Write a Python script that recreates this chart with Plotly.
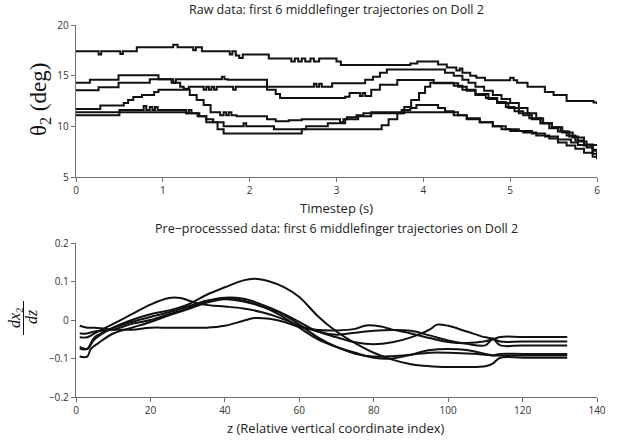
import plotly.graph_objects as go

# ---------------- Top panel: raw trajectories (step data) ----------------
raw_t1 = [0, 0.26, 0.29, 0.51, 0.54, 0.7, 1.12, 1.17, 1.35, 1.38, 1.45, 1.77, 1.8, 1.84, 1.88, 1.92, 2.22, 2.48, 2.52, 2.56, 2.6, 2.64, 2.7, 2.74, 2.8, 3.0, 3.05, 3.73, 3.85, 3.93, 4.17, 4.27, 4.38, 4.42, 4.45, 4.54, 4.61, 4.71, 5.0, 5.04, 5.08, 5.2, 5.4, 5.5, 5.65, 5.96, 6.0]
raw_v1 = [17.4, 17.1, 17.4, 17.15, 17.4, 17.8, 18.05, 17.8, 17.5, 17.8, 17.4, 17.1, 17.4, 17.0, 16.75, 17.1, 16.7, 16.4, 16.7, 16.4, 16.7, 16.4, 16.7, 16.4, 16.7, 16.4, 16.05, 16.05, 16.2, 16.4, 16.1, 15.8, 15.5, 15.7, 15.3, 15.0, 14.8, 14.55, 14.8, 14.55, 14.3, 13.9, 13.4, 13.1, 12.5, 12.35, 12.2]

raw_t2 = [0, 0.16, 0.49, 0.95, 1.1, 1.15, 1.68, 1.71, 1.75, 2.2, 2.74, 2.77, 2.8, 2.83, 2.95, 3.27, 3.33, 3.42, 3.5, 3.58, 4.18, 4.25, 4.35, 4.45, 4.52, 4.6, 4.7, 4.8, 4.9, 5.0, 5.1, 5.2, 5.3, 5.38, 5.48, 5.58, 5.68, 5.78, 5.88, 5.95, 6.0]
raw_v2 = [14.3, 14.6, 15.05, 14.65, 14.3, 14.65, 14.9, 14.65, 14.6, 13.9, 14.2, 13.9, 14.2, 13.9, 14.25, 14.25, 14.6, 14.9, 15.3, 15.6, 15.6, 15.3, 15.0, 14.6, 14.3, 13.9, 13.5, 13.1, 12.7, 12.3, 11.8, 11.3, 10.8, 10.3, 9.9, 9.5, 9.0, 8.5, 7.9, 7.3, 7.0]

raw_t3 = [0, 0.26, 0.49, 0.85, 1.12, 1.2, 1.24, 1.3, 1.47, 1.5, 1.53, 1.56, 1.59, 1.62, 1.81, 1.84, 1.87, 2.2, 2.3, 2.35, 3.1, 3.15, 3.27, 3.3, 3.33, 3.4, 3.5, 3.7, 4.08, 4.12, 4.3, 4.4, 4.5, 4.6, 4.72, 4.85, 4.95, 5.05, 5.15, 5.25, 5.35, 5.45, 5.55, 5.65, 5.75, 5.85, 5.95, 6.0]
raw_v3 = [13.55, 13.85, 14.3, 14.65, 14.3, 13.9, 13.7, 13.9, 13.6, 13.9, 13.6, 13.9, 13.6, 13.9, 13.6, 13.9, 13.9, 13.6, 13.2, 12.8, 12.93, 13.3, 13.0, 13.3, 13.0, 13.6, 14.1, 14.57, 14.57, 14.25, 14.25, 13.9, 13.5, 13.1, 12.8, 12.4, 11.9, 11.5, 11.1, 10.7, 10.3, 9.8, 9.5, 9.1, 8.6, 8.1, 7.7, 7.5]

raw_t4 = [0, 0.28, 0.55, 0.6, 0.66, 0.76, 0.9, 0.95, 1.2, 1.31, 1.39, 1.47, 1.55, 1.66, 1.7, 1.73, 1.76, 1.79, 1.85, 2.2, 2.3, 2.45, 2.6, 3.0, 3.04, 3.08, 3.12, 3.23, 3.31, 3.5, 3.75, 3.85, 3.92, 4.11, 4.17, 4.25, 4.35, 4.5, 4.65, 4.8, 4.95, 5.1, 5.25, 5.4, 5.55, 5.7, 5.78, 6.0]
raw_v4 = [11.7, 12.05, 12.3, 12.6, 12.9, 13.1, 13.4, 13.6, 13.6, 13.1, 12.6, 12.1, 11.4, 11.1, 11.4, 11.1, 11.4, 11.1, 11.0, 10.7, 10.5, 10.6, 10.7, 10.7, 10.4, 10.7, 10.9, 11.1, 11.3, 11.3, 11.6, 11.8, 12.1, 12.1, 11.8, 11.5, 11.1, 10.8, 10.4, 10.0, 9.7, 9.55, 9.3, 9.0, 8.7, 8.4, 8.15, 8.15]

raw_t5 = [0, 0.5, 0.78, 0.81, 0.85, 0.88, 0.91, 0.94, 0.97, 1.27, 1.3, 1.33, 1.42, 1.5, 1.58, 1.7, 1.93, 1.96, 1.99, 2.28, 2.65, 2.9, 3.1, 3.25, 3.4, 4.3, 4.4, 4.5, 4.65, 4.8, 4.9, 5.0, 5.15, 5.3, 5.45, 5.55, 5.65, 5.75, 5.85, 5.95, 6.0]
raw_v5 = [11.4, 11.6, 12.0, 11.6, 11.9, 11.6, 11.9, 11.6, 11.6, 11.3, 11.6, 11.3, 11.0, 10.7, 10.4, 10.0, 10.3, 10.0, 10.0, 9.7, 10.0, 10.3, 10.7, 11.0, 11.4, 11.4, 11.1, 10.7, 10.4, 10.0, 9.7, 9.55, 9.4, 9.1, 8.8, 8.4, 8.1, 7.8, 7.4, 7.0, 6.75]

raw_t6 = [0, 0.5, 1.27, 1.4, 1.5, 1.63, 1.7, 2.54, 2.6, 3.44, 3.52, 3.6, 3.7, 3.78, 3.86, 3.95, 4.02, 4.08, 4.35, 4.45, 4.6, 4.75, 4.85, 4.98, 5.1, 5.22, 5.35, 5.48, 5.6, 5.72, 5.85, 5.95, 6.0]
raw_v6 = [11.1, 11.4, 11.3, 11.0, 10.4, 9.7, 9.3, 9.3, 9.7, 9.7, 10.1, 10.7, 11.3, 11.9, 12.6, 13.3, 13.9, 14.3, 14.0, 13.6, 13.2, 12.7, 12.3, 11.8, 11.3, 10.8, 10.3, 9.9, 9.4, 8.9, 8.2, 7.6, 7.3]

raw_ts = [raw_t1, raw_t2, raw_t3, raw_t4, raw_t5, raw_t6]
raw_vs = [raw_v1, raw_v2, raw_v3, raw_v4, raw_v5, raw_v6]

# ---------------- Bottom panel: pre-processed curves ----------------
pz1 = [1, 3, 5, 10, 15, 20, 25, 30, 35, 40, 45, 48, 52, 56, 60, 65, 70, 75, 80, 85, 90, 95, 100, 105, 110, 112, 114, 120, 132]
pv1 = [-0.07, -0.075, -0.05, -0.02, 0.0, 0.015, 0.025, 0.04, 0.065, 0.085, 0.103, 0.107, 0.1, 0.085, 0.06, 0.01, -0.03, -0.06, -0.085, -0.103, -0.115, -0.12, -0.122, -0.122, -0.12, -0.113, -0.098, -0.098, -0.098]

pz2 = [1, 3, 5, 10, 15, 20, 25, 28, 32, 36, 40, 45, 50, 55, 60, 65, 70, 75, 80, 85, 90, 95, 97, 100, 105, 110, 112, 114, 120, 132]
pv2 = [-0.045, -0.045, -0.035, -0.01, 0.015, 0.04, 0.057, 0.057, 0.045, 0.038, 0.035, 0.03, 0.02, 0.005, -0.015, -0.03, -0.045, -0.058, -0.063, -0.058, -0.045, -0.025, -0.012, -0.015, -0.03, -0.045, -0.048, -0.056, -0.056, -0.056]

pz3 = [1, 3, 5, 10, 15, 20, 25, 30, 35, 40, 45, 48, 52, 56, 60, 65, 70, 75, 78, 82, 85, 90, 95, 100, 105, 110, 112, 114, 120, 132]
pv3 = [-0.015, -0.02, -0.02, -0.025, -0.025, -0.02, -0.02, -0.02, -0.02, -0.015, -0.002, 0.005, 0.003, -0.005, -0.018, -0.026, -0.027, -0.023, -0.014, -0.017, -0.025, -0.035, -0.047, -0.057, -0.06, -0.055, -0.05, -0.044, -0.044, -0.044]

pz4 = [1, 3, 5, 10, 15, 20, 25, 30, 35, 40, 45, 50, 55, 60, 65, 70, 75, 80, 85, 90, 95, 100, 105, 110, 112, 114, 120, 132]
pv4 = [-0.035, -0.035, -0.03, -0.025, -0.01, 0.0, 0.015, 0.03, 0.048, 0.056, 0.05, 0.035, 0.018, -0.012, -0.045, -0.07, -0.088, -0.095, -0.094, -0.09, -0.085, -0.085, -0.087, -0.09, -0.092, -0.088, -0.088, -0.088]

pz5 = [1, 3, 5, 10, 15, 20, 25, 30, 35, 40, 45, 50, 55, 60, 65, 70, 75, 80, 85, 90, 95, 100, 105, 110, 112, 114, 120, 132]
pv5 = [-0.075, -0.075, -0.045, -0.02, -0.005, 0.008, 0.02, 0.035, 0.05, 0.058, 0.055, 0.04, 0.02, -0.005, -0.03, -0.038, -0.033, -0.028, -0.026, -0.028, -0.04, -0.053, -0.062, -0.066, -0.05, -0.066, -0.066, -0.066]

pz6 = [1, 3, 4, 6, 10, 15, 20, 25, 30, 35, 40, 45, 50, 55, 60, 65, 70, 75, 80, 85, 90, 95, 100, 105, 110, 112, 114, 120, 132]
pv6 = [-0.095, -0.095, -0.075, -0.06, -0.035, -0.02, -0.005, 0.012, 0.028, 0.045, 0.054, 0.048, 0.035, 0.012, -0.02, -0.05, -0.07, -0.085, -0.098, -0.1, -0.09, -0.078, -0.075, -0.078, -0.088, -0.092, -0.092, -0.092, -0.092]

pre_zs = [pz1, pz2, pz3, pz4, pz5, pz6]
pre_vs = [pv1, pv2, pv3, pv4, pv5, pv6]

# tick labels
top_xticks = [0, 1, 2, 3, 4, 5, 6]
top_yticks = [5, 10, 15, 20]
bot_xticks = [0, 20, 40, 60, 80, 100, 120, 140]
bot_yticks = [-0.2, -0.1, 0, 0.1, 0.2]
bot_yticktext = ["\u22120.2", "\u22120.1", "0", "0.1", "0.2"]

title_top = "Raw data: first 6 middlefinger trajectories on Doll 2"
title_bot = "Pre\u2212processsed data: first 6 middlefinger trajectories on Doll 2"
xlabel_top = "Timestep (s)"
xlabel_bot = "z (Relative vertical coordinate index)"

W, H = 625, 442
SANS = "Open Sans, Lato, sans-serif"
SERIF = "Liberation Serif, DejaVu Serif, serif"

fig = go.Figure()
for t, v in zip(raw_ts, raw_vs):
    fig.add_trace(go.Scatter(x=t, y=v, mode="lines", line=dict(color="#111111", width=2, shape="hv"),
                             xaxis="x", yaxis="y", showlegend=False, hoverinfo="skip"))
for z, v in zip(pre_zs, pre_vs):
    fig.add_trace(go.Scatter(x=z, y=v, mode="lines", line=dict(color="#111111", width=2, shape="spline", smoothing=1.0),
                             xaxis="x2", yaxis="y2", showlegend=False, hoverinfo="skip"))

def px_x(p):
    return p / W

def px_y(p):
    return 1 - p / H

axis_common = dict(showgrid=False, zeroline=False, showline=True, linecolor="#6e6e6e", linewidth=1.3,
                   ticks="outside", ticklen=4, tickwidth=1, tickcolor="#6e6e6e", automargin=False,
                   tickfont=dict(family=SANS, size=10, color="#333333"))

fig.update_layout(
    template="none",
    width=W, height=H,
    margin=dict(l=0, r=0, t=0, b=0, pad=0),
    paper_bgcolor="white", plot_bgcolor="white",
    xaxis=dict(domain=[px_x(76), px_x(597)], range=[0, 6], tickvals=top_xticks, anchor="y", **axis_common),
    yaxis=dict(domain=[px_y(177), px_y(25)], range=[5, 20], tickvals=top_yticks, anchor="x", **axis_common),
    xaxis2=dict(domain=[px_x(76), px_x(597)], range=[0, 140], tickvals=bot_xticks, anchor="y2", **axis_common),
    yaxis2=dict(domain=[px_y(397), px_y(243)], range=[-0.2, 0.2], tickvals=bot_yticks, ticktext=bot_yticktext,
                anchor="x2", **axis_common),
)

ann = []
ann.append(dict(text=title_top, x=px_x(336), y=px_y(9), xref="paper", yref="paper", showarrow=False,
                font=dict(family=SANS, size=12.5, color="#222222"), xanchor="center", yanchor="middle"))
ann.append(dict(text=title_bot, x=px_x(336), y=px_y(228), xref="paper", yref="paper", showarrow=False,
                font=dict(family=SANS, size=12.5, color="#222222"), xanchor="center", yanchor="middle"))
ann.append(dict(text=xlabel_top, x=px_x(336), y=px_y(208), xref="paper", yref="paper", showarrow=False,
                font=dict(family=SANS, size=13, color="#222222"), xanchor="center", yanchor="middle"))
ann.append(dict(text=xlabel_bot, x=px_x(336), y=px_y(428), xref="paper", yref="paper", showarrow=False,
                font=dict(family=SANS, size=13, color="#222222"), xanchor="center", yanchor="middle"))
# top y label
ann.append(dict(text="\u03b8<sub>2</sub> (deg)", x=px_x(40), y=px_y(100), xref="paper", yref="paper",
                showarrow=False, textangle=-90, font=dict(family=SERIF, size=23, color="#111111"),
                xanchor="center", yanchor="middle"))
# bottom y label as a fraction
ann.append(dict(text="<i>dx</i><sub>2</sub>", x=px_x(15), y=px_y(318), xref="paper", yref="paper",
                showarrow=False, textangle=-90, font=dict(family=SERIF, size=16, color="#111111"),
                xanchor="center", yanchor="middle"))
ann.append(dict(text="<i>dz</i>", x=px_x(31), y=px_y(317), xref="paper", yref="paper",
                showarrow=False, textangle=-90, font=dict(family=SERIF, size=16, color="#111111"),
                xanchor="center", yanchor="middle"))
fig.update_layout(annotations=ann)
fig.add_shape(type="line", xref="paper", yref="paper", x0=px_x(23.5), x1=px_x(23.5), y0=px_y(301), y1=px_y(335),
              line=dict(color="#111111", width=1))

fig.write_html("out.html",
               config={"displayModeBar": False, "staticPlot": True},
               post_script="document.body.style.margin='0px';document.body.style.padding='0px';"
                           "document.body.style.overflow='hidden';")
